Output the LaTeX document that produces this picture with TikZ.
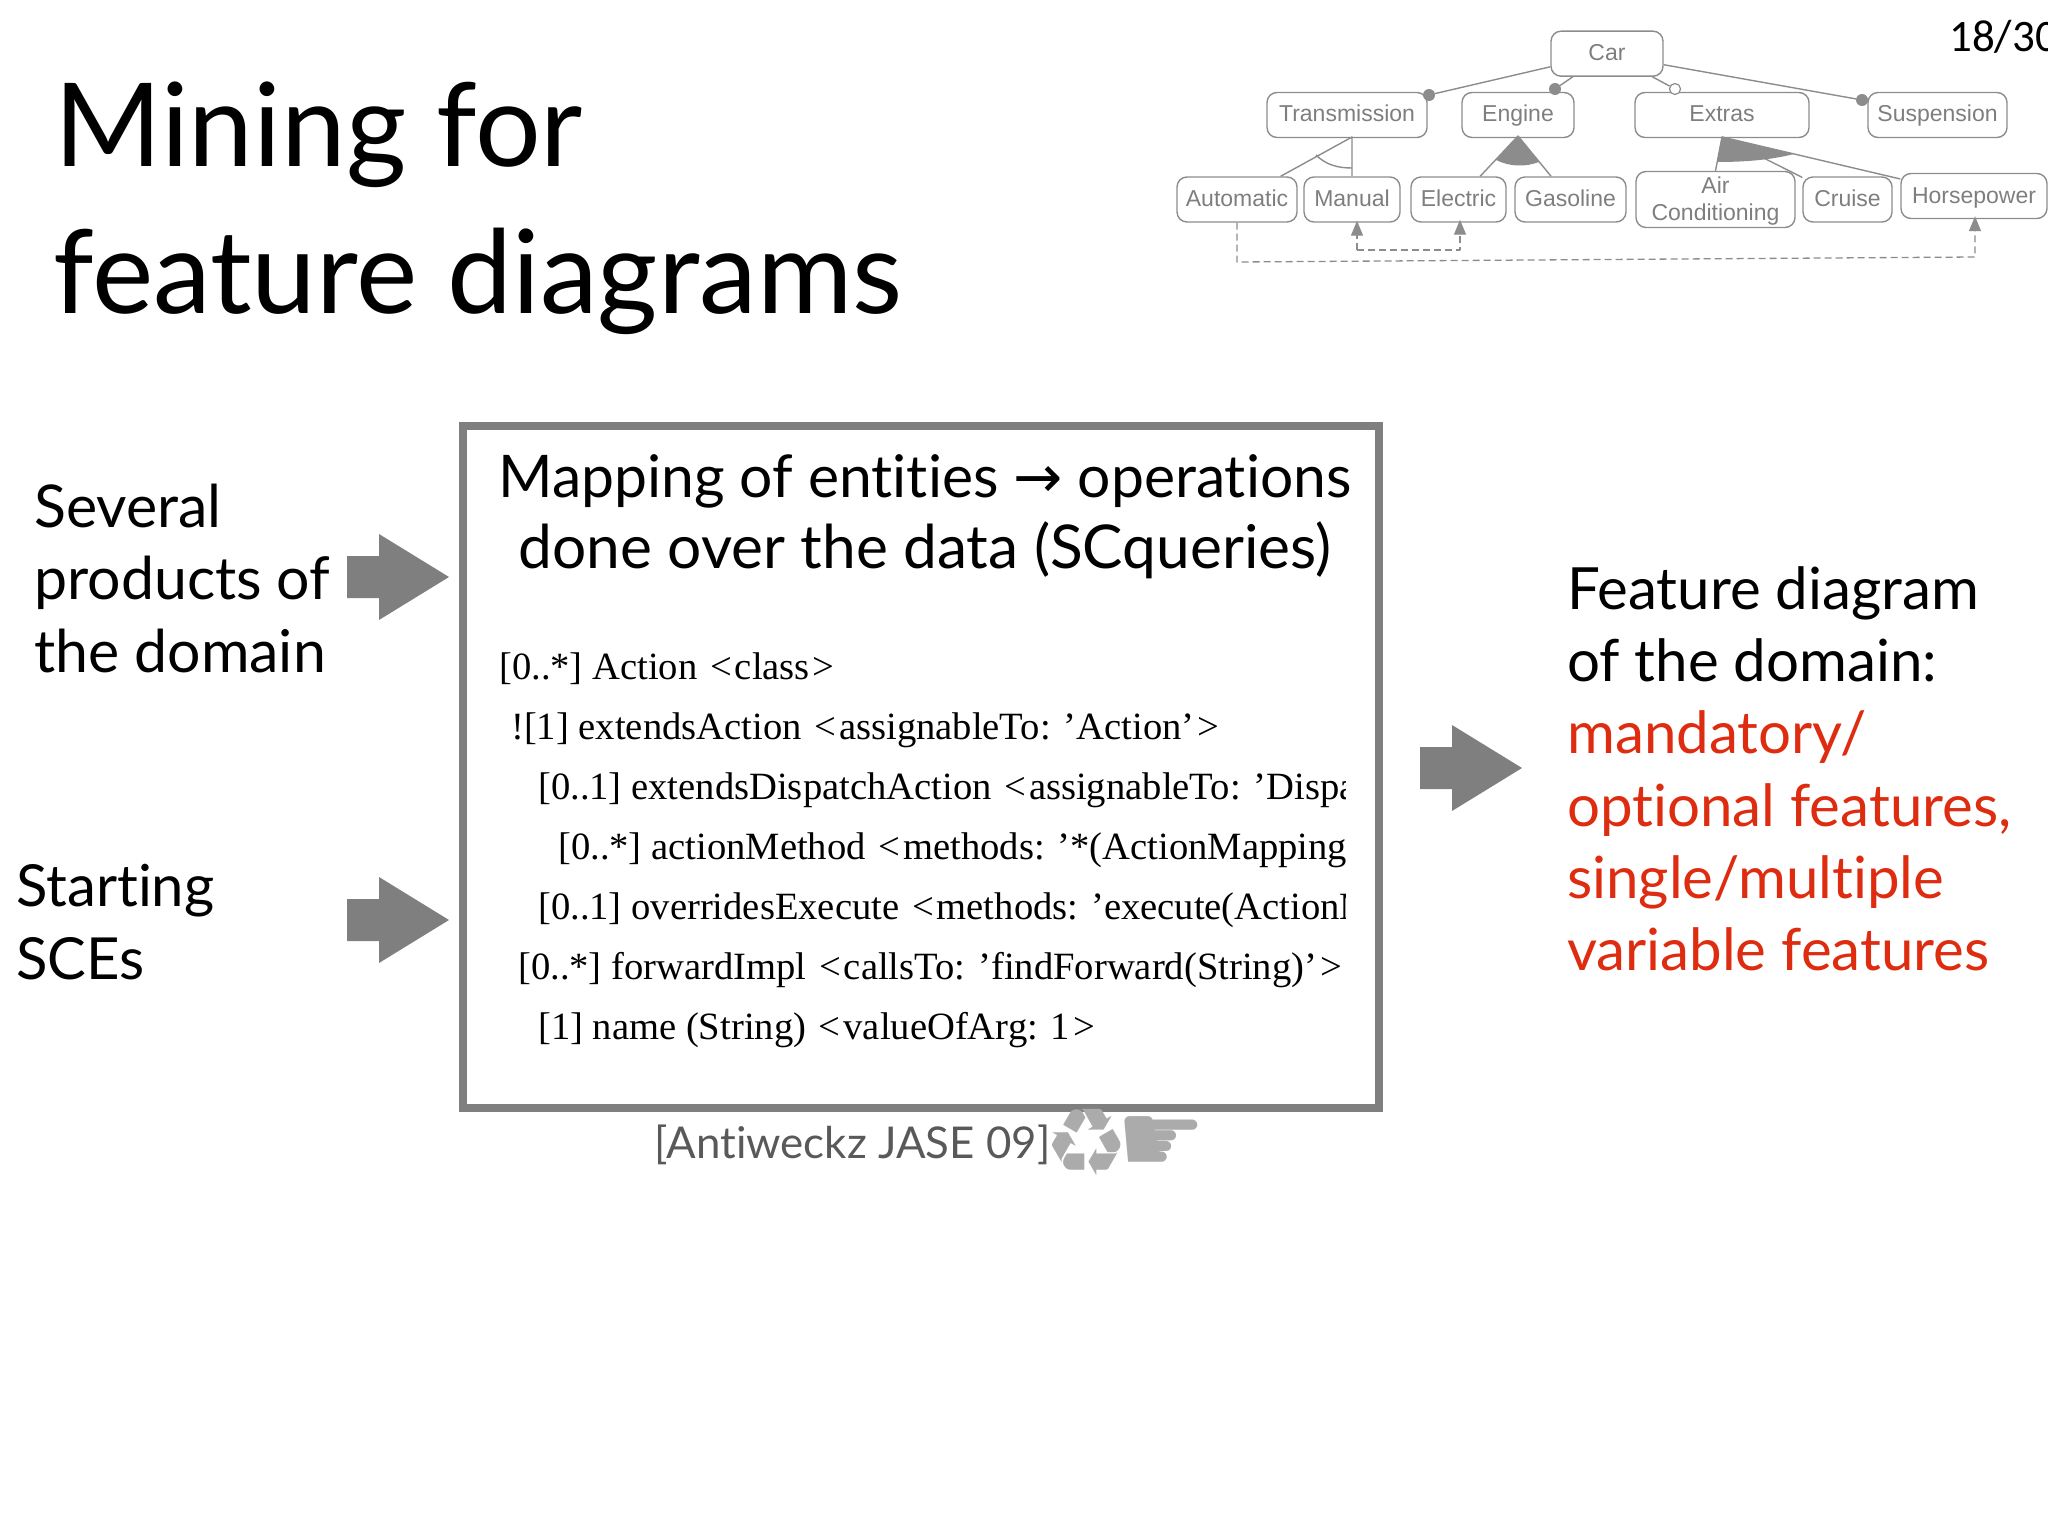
\documentclass[tikz,border=0pt]{standalone}
\usepackage{fontspec}
\setmainfont[Ligatures=CommonOff]{Lato}
\newfontfamily\codefont{Liberation Serif}
\newfontfamily\featfont{Liberation Sans}
\newfontfamily\symbfont{DejaVu Sans}
\newfontfamily\pagefont{Carlito}
\usetikzlibrary{arrows.meta}
\definecolor{boxgray}{RGB}{127,127,127}
\definecolor{featgray}{RGB}{140,140,140}
\definecolor{textred}{RGB}{222,44,16}
\newcommand\opn{\kern3pt<\kern3pt}
\newcommand\cls{\kern3pt>}
\tikzset{
  feat/.style={draw=featgray, line width=1.4pt, rounded corners=10pt, text=featgray!90!black, inner sep=0pt,
    minimum height=45pt, align=center, font=\featfont\fontsize{23}{27}\selectfont},
  oneline/.style={text height=14pt, text depth=0pt},
  link/.style={draw=featgray, line width=1.4pt},
  solidend/.style={circle, fill=featgray, inner sep=0pt, minimum size=12pt},
  openend/.style={circle, draw=featgray, fill=white, line width=1.2pt, inner sep=0pt, minimum size=11pt},
  req/.style={draw=featgray, line width=1.3pt, dash pattern=on 7pt off 4pt},
  reqtip/.style={-{Triangle[length=15pt,width=12pt]}},
  title/.style={anchor=base west, inner sep=0pt, font=\fontsize{116}{148}\selectfont, align=left},
  body/.style={anchor=base west, inner sep=0pt, font=\fontsize{59}{72.2}\selectfont, align=left},
  code/.style={anchor=base west, inner sep=0pt, font=\codefont\fontsize{38.6}{39}\selectfont}
}
\begin{document}
\begin{tikzpicture}[x=1pt, y=-1pt, line join=round]
\useasboundingbox (0,0) rectangle (2048,1536);

\node[title] (titleA) at (54,166) {Mining for};
\node[title] (titleB) at (53,313) {feature diagrams};
\node[inner sep=0pt, anchor=base west, font=\pagefont\fontsize{45}{50}\selectfont] (pageno) at (1949,52) {18/30};

\node[feat, oneline, minimum width=112pt] (car) at (1607,53.7) {Car};
\node[feat, oneline, minimum width=160pt] (trans) at (1347,115) {Transmission};
\node[feat, oneline, minimum width=112pt] (engine) at (1518,115) {Engine};
\node[feat, oneline, minimum width=174pt] (extras) at (1722,115) {Extras};
\node[feat, oneline, minimum width=139pt] (susp) at (1937.5,115) {Suspension};
\node[feat, oneline, minimum width=120pt] (auto) at (1237,199.5) {Automatic};
\node[feat, oneline, minimum width=96pt] (manual) at (1352,199.5) {Manual};
\node[feat, oneline, minimum width=95pt] (electric) at (1458.5,199.5) {Electric};
\node[feat, oneline, minimum width=111pt] (gasoline) at (1570.5,199.5) {Gasoline};
\node[feat, text height=47pt, minimum width=159pt, minimum height=56pt] (air) at (1715.5,199.5) {Air\\Conditioning};
\node[feat, oneline, minimum width=89pt] (cruise) at (1847.5,199.5) {Cruise};
\node[feat, oneline, minimum width=146pt] (horse) at (1974,196) {Horsepower};

\node[solidend] (endT) at (1429,95) {};
\node[solidend] (endE) at (1555,89) {};
\node[openend] (endX) at (1675,89) {};
\node[solidend] (endS) at (1862,100) {};
\draw[link] (car.193) -- (endT);
\draw[link] (car.214) -- (endE);
\draw[link] (car.333) -- (endX);
\draw[link] (car.349) -- (endS);

\coordinate (apexT) at (1352,137);
\coordinate (apexE) at (1518,136);
\coordinate (apexX) at (1722,137);
\fill[featgray] (apexE) -- (1496,160) .. controls (1510,167) and (1526,167) .. (1539,162) -- cycle;
\fill[featgray] (apexX) -- (1717,162) .. controls (1745,162) and (1770,160) .. (1794,154) -- cycle;
\draw[link] (auto.28) -- (apexT) -- (manual.north);
\draw[link] (1316,155) .. controls (1326,165) and (1338,168) .. (1352,168);
\draw[link] (electric.47) -- (apexE) -- (gasoline.130);
\draw[link] (air.north) -- (apexX) -- (cruise.154);
\draw[link] (apexX) -- (horse.167);

\coordinate (reqA) at (1237,262);
\coordinate (reqB) at (1975,257);
\coordinate (reqC) at (1357,250);
\coordinate (reqD) at (1460,250);
\draw[req, reqtip] (auto.south) -- (reqA) -- (reqB) -- ([yshift=3pt]horse.south -| reqB);
\draw[req, reqtip] (reqC) -- ([yshift=2pt]manual.south -| reqC);
\draw[req, reqtip] (reqC) -- (reqD) -- ([yshift=3pt]electric.south -| reqD);

\draw[boxgray, line width=8pt, line join=miter] (462.5,426) rectangle (1379,1108);
\node[anchor=base, inner sep=0pt, font=\fontsize{60.4}{71}\selectfont, align=center] (mapping) at (925,568)
  {{\fontsize{58.8}{71}\selectfont Mapping of entities {\symbfont→} operations}\\done over the data (SCqueries)};

\begin{scope}
\clip (470,620) rectangle (1345,1090);
\foreach \nm/\xx/\yy/\txt in {
  lineA/499/679/{[0..*] Action \opn class\cls},
  lineB/511/739/{![1] extendsAction \opn assignableTo: ’Action’\cls},
  lineC/538/799/{[0..1] extendsDispatchAction \opn assignableTo: ’Dispa},
  lineD/558/859/{[0..*] actionMethod \opn methods: ’*(ActionMapping},
  lineE/538/919/{[0..1] overridesExecute \opn methods: ’execute(ActionM},
  lineF/518/979/{[0..*] forwardImpl \opn callsTo: ’findForward(String)’\cls},
  lineG/538/1039/{[1] name (String) \opn valueOfArg: 1\cls}}
  \node[code] (\nm) at (\xx,\yy) {\txt};
\end{scope}

\node[body] (several) at (34,672) {Several\\products of\\the domain};
\node[body, font=\fontsize{58}{72.2}\selectfont] (starting) at (16,979) {Starting\\SCEs};
\node[body, font=\fontsize{58.2}{72.2}\selectfont] (result) at (1567,970.5) {Feature diagram\\of the domain:\\\textcolor{textred}{mandatory/}\\\textcolor{textred}{optional features,}\\\textcolor{textred}{single/multiple}\\\textcolor{textred}{variable features}};

\foreach \xx/\yy in {347/577, 347/920, 1420/768}
  \fill[boxgray, shift={(\xx,\yy)}] (0,-21) -- (32,-21) -- (32,-43) -- (102,0) -- (32,43) -- (32,21) -- (0,21) -- cycle;

\node[anchor=base west, inner sep=0pt, text=black!65, font=\fontsize{43.8}{56}\selectfont] (cite) at (654,1158) {[Antiweckz JASE 09]};
\node[anchor=center, inner sep=0pt, text=black!33, font=\symbfont\fontsize{94}{94}\selectfont] (recycle) at (1087,1142) {♻};
\node[anchor=center, inner sep=0pt, text=black!33, font=\symbfont\fontsize{100}{100}\selectfont] (hand) at (1161,1145) {☛};
\end{tikzpicture}
\end{document}
